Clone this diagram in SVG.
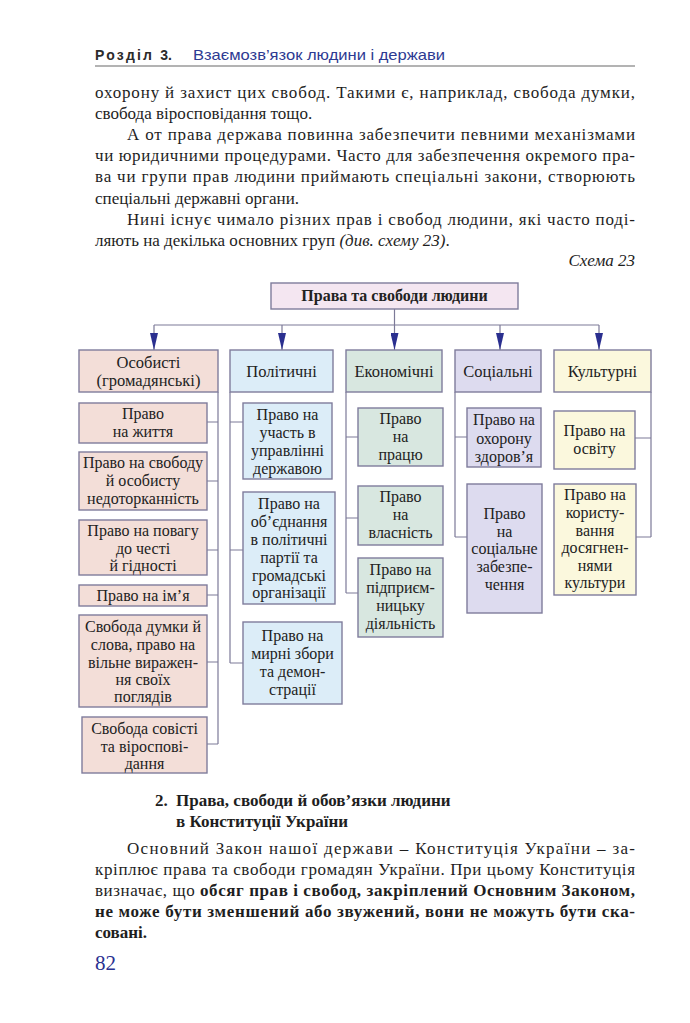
<svg xmlns="http://www.w3.org/2000/svg" width="690" height="1023" viewBox="0 0 690 1023">
<defs>
<style>
.body{font-family:"Liberation Serif","DejaVu Serif",serif;font-size:17px;fill:#1e1e1e}
.b{font-weight:bold}
.it{font-style:italic}
.bx{stroke:#7f7c9c;stroke-width:1.4}
.t{font-family:"Liberation Serif","DejaVu Serif",serif;font-size:16px;fill:#222;text-anchor:middle}
.cat{font-size:16.5px}
.os{fill:#f3ded8}
.po{fill:#dcedf8}
.ek{fill:#d8e7e0}
.so{fill:#dddbef}
.ku{fill:#fbf8dd}
.con{fill:none;stroke:#7c7a98;stroke-width:1.2}
</style>
<marker id="ah" markerWidth="17" markerHeight="8" refX="17" refY="4" orient="auto" markerUnits="userSpaceOnUse" viewBox="0 0 17 8">
<path d="M0,0 L17,4 L0,8 Z" fill="#2a2f8f"/>
</marker>
</defs>
<rect width="690" height="1023" fill="#ffffff"/>

<!-- header -->
<g id="header">
<text x="95" y="60" font-family="Liberation Sans,Arial,sans-serif" font-size="14" font-weight="bold" fill="#2b2b2b"><tspan letter-spacing="2.2">Розділ </tspan><tspan>3.</tspan></text>
<text x="193" y="60" font-family="Liberation Sans,Arial,sans-serif" font-size="15" fill="#2d3a92" textLength="252" lengthAdjust="spacingAndGlyphs">Взаємозв’язок людини і держави</text>
<line x1="95" y1="66" x2="635" y2="66" stroke="#9a9a9a" stroke-width="1.5"/>
</g>

<!-- top paragraphs -->
<g id="text-top" class="body">
<text x="95" y="98" textLength="540" lengthAdjust="spacing">охорону й захист цих свобод. Такими є, наприклад, свобода думки,</text>
<text x="95" y="119">свобода віросповідання тощо.</text>
<text x="127" y="140" textLength="508" lengthAdjust="spacing">А от права держава повинна забезпечити певними механізмами</text>
<text x="95" y="161" textLength="540" lengthAdjust="spacing">чи юридичними процедурами. Часто для забезпечення окремого пра-</text>
<text x="95" y="182" textLength="540" lengthAdjust="spacing">ва чи групи прав людини приймають спеціальні закони, створюють</text>
<text x="95" y="204">спеціальні державні органи.</text>
<text x="127" y="225" textLength="508" lengthAdjust="spacing">Нині існує чимало різних прав і свобод людини, які часто поді-</text>
<text x="95" y="246">ляють на декілька основних груп <tspan class="it">(див. схему 23)</tspan>.</text>
<text x="635" y="266" class="it" text-anchor="end">Схема 23</text>
</g>

<!-- connectors -->
<g id="connectors">
<path class="con" d="M394.5,309 V325 M154,325 H599"/>
<path class="con" marker-end="url(#ah)" d="M154,325 V350"/>
<path class="con" marker-end="url(#ah)" d="M282,325 V350"/>
<path class="con" marker-end="url(#ah)" d="M394.5,325 V350"/>
<path class="con" marker-end="url(#ah)" d="M500,325 V350"/>
<path class="con" marker-end="url(#ah)" d="M599,325 V350"/>
<path class="con" d="M218,392 V744 M207,422 H218 M207,481 H218 M207,550 H218 M207,595 H218 M207,662 H218 M207,744 H218"/>
<path class="con" d="M230,392 V663 M230,422 H243 M230,550 H243 M230,663 H243"/>
<path class="con" d="M346,392 V593 M346,437 H358 M346,518 H358 M346,593 H358"/>
<path class="con" d="M455,392 V537 M455,437 H467 M455,537 H467"/>
<path class="con" d="M651,392 V537 M635,438 H651 M636,537 H651"/>
</g>

<!-- root -->
<g id="root">
<rect class="bx" x="271" y="283" width="247" height="26" fill="#f4e6f1"/>
<text class="t b" x="394.5" y="301" font-size="15">Права та свободи людини</text>
</g>

<!-- categories -->
<g id="cat-osobysti">
<rect class="bx os" x="79" y="350" width="139" height="42"/>
<text class="t cat" x="148.5" y="368">Особисті</text>
<text class="t cat" x="148.5" y="386">(громадянські)</text>
</g>
<g id="cat-politychni">
<rect class="bx po" x="230" y="350" width="103" height="42"/>
<text class="t cat" x="281.5" y="377">Політичні</text>
</g>
<g id="cat-ekonomichni">
<rect class="bx ek" x="346" y="350" width="96" height="42"/>
<text class="t cat" x="394" y="377">Економічні</text>
</g>
<g id="cat-sotsialni">
<rect class="bx so" x="455" y="350" width="86" height="42"/>
<text class="t cat" x="498" y="377">Соціальні</text>
</g>
<g id="cat-kulturni">
<rect class="bx ku" x="554" y="350" width="97" height="42"/>
<text class="t cat" x="602.5" y="377">Культурні</text>
</g>

<!-- Особисті children -->
<g id="os-1">
<rect class="bx os" x="79" y="403" width="128" height="40"/>
<text class="t" x="143" y="419">Право</text>
<text class="t" x="143" y="437">на життя</text>
</g>
<g id="os-2">
<rect class="bx os" x="79" y="452" width="128" height="58"/>
<text class="t" x="143" y="468">Право на свободу</text>
<text class="t" x="143" y="486">й особисту</text>
<text class="t" x="143" y="504">недоторканність</text>
</g>
<g id="os-3">
<rect class="bx os" x="79" y="520" width="128" height="55"/>
<text class="t" x="143" y="536">Право на повагу</text>
<text class="t" x="143" y="554">до честі</text>
<text class="t" x="143" y="571">й гідності</text>
</g>
<g id="os-4">
<rect class="bx os" x="79" y="585" width="128" height="21"/>
<text class="t" x="143" y="601">Право на ім’я</text>
</g>
<g id="os-5">
<rect class="bx os" x="79" y="615" width="128" height="92"/>
<text class="t" x="143" y="632">Свобода думки й</text>
<text class="t" x="143" y="650">слова, право на</text>
<text class="t" x="143" y="668">вільне виражен-</text>
<text class="t" x="143" y="685">ня своїх</text>
<text class="t" x="143" y="702">поглядів</text>
</g>
<g id="os-6">
<rect class="bx os" x="82" y="717" width="125" height="56"/>
<text class="t" x="144.5" y="734">Свобода совісті</text>
<text class="t" x="144.5" y="752">та віроспові-</text>
<text class="t" x="144.5" y="769">дання</text>
</g>

<!-- Політичні children -->
<g id="po-1">
<rect class="bx po" x="243" y="403" width="89" height="76"/>
<text class="t" x="287.5" y="420">Право на</text>
<text class="t" x="287.5" y="438">участь в</text>
<text class="t" x="287.5" y="456">управлінні</text>
<text class="t" x="287.5" y="474">державою</text>
</g>
<g id="po-2">
<rect class="bx po" x="243" y="492" width="92" height="112"/>
<text class="t" x="289" y="509">Право на</text>
<text class="t" x="289" y="527">об’єднання</text>
<text class="t" x="289" y="545">в політичні</text>
<text class="t" x="289" y="563">партії та</text>
<text class="t" x="289" y="581">громадські</text>
<text class="t" x="289" y="598">організації</text>
</g>
<g id="po-3">
<rect class="bx po" x="243" y="622" width="99" height="82"/>
<text class="t" x="292.5" y="641">Право на</text>
<text class="t" x="292.5" y="659">мирні збори</text>
<text class="t" x="292.5" y="677">та демон-</text>
<text class="t" x="292.5" y="695">страції</text>
</g>

<!-- Економічні children -->
<g id="ek-1">
<rect class="bx ek" x="358" y="408" width="85" height="58"/>
<text class="t" x="400.5" y="424">Право</text>
<text class="t" x="400.5" y="442">на</text>
<text class="t" x="400.5" y="460">працю</text>
</g>
<g id="ek-2">
<rect class="bx ek" x="358" y="486" width="85" height="59"/>
<text class="t" x="400.5" y="502">Право</text>
<text class="t" x="400.5" y="520">на</text>
<text class="t" x="400.5" y="538">власність</text>
</g>
<g id="ek-3">
<rect class="bx ek" x="358" y="558" width="85" height="79"/>
<text class="t" x="400.5" y="575">Право на</text>
<text class="t" x="400.5" y="593">підприєм-</text>
<text class="t" x="400.5" y="611">ницьку</text>
<text class="t" x="400.5" y="629">діяльність</text>
</g>

<!-- Соціальні children -->
<g id="so-1">
<rect class="bx so" x="467" y="408" width="74" height="59"/>
<text class="t" x="504" y="425">Право на</text>
<text class="t" x="504" y="444">охорону</text>
<text class="t" x="504" y="462">здоров’я</text>
</g>
<g id="so-2">
<rect class="bx so" x="467" y="484" width="75" height="129"/>
<text class="t" x="504.5" y="519">Право</text>
<text class="t" x="504.5" y="537">на</text>
<text class="t" x="504.5" y="554">соціальне</text>
<text class="t" x="504.5" y="572">забезпе-</text>
<text class="t" x="504.5" y="590">чення</text>
</g>

<!-- Культурні children -->
<g id="ku-1">
<rect class="bx ku" x="554" y="411" width="81" height="58"/>
<text class="t" x="594.5" y="436">Право на</text>
<text class="t" x="594.5" y="454">освіту</text>
</g>
<g id="ku-2">
<rect class="bx ku" x="554" y="484" width="82" height="111"/>
<text class="t" x="595" y="500">Право на</text>
<text class="t" x="595" y="518">користу-</text>
<text class="t" x="595" y="536">вання</text>
<text class="t" x="595" y="553">досягнен-</text>
<text class="t" x="595" y="571">нями</text>
<text class="t" x="595" y="588">культури</text>
</g>

<!-- bottom text -->
<g id="text-bottom" class="body">
<text x="155" y="806" class="b">2.</text>
<text x="176" y="806" class="b">Права, свободи й обов’язки людини</text>
<text x="176" y="827" class="b">в Конституції України</text>
<text x="127" y="854" textLength="508" lengthAdjust="spacing">Основний Закон нашої держави – Конституція України – за-</text>
<text x="95" y="875" textLength="540" lengthAdjust="spacing">кріплює права та свободи громадян України. При цьому Конституція</text>
<text x="95" y="896" textLength="540" lengthAdjust="spacing">визначає, що <tspan class="b">обсяг прав і свобод, закріплений Основним Законом,</tspan></text>
<text x="95" y="917" class="b" textLength="540" lengthAdjust="spacing">не може бути зменшений або звужений, вони не можуть бути ска-</text>
<text x="95" y="938" class="b">совані.</text>
<text x="95" y="970" font-family="Liberation Serif,serif" font-size="21" fill="#2a3190">82</text>
</g>
</svg>
